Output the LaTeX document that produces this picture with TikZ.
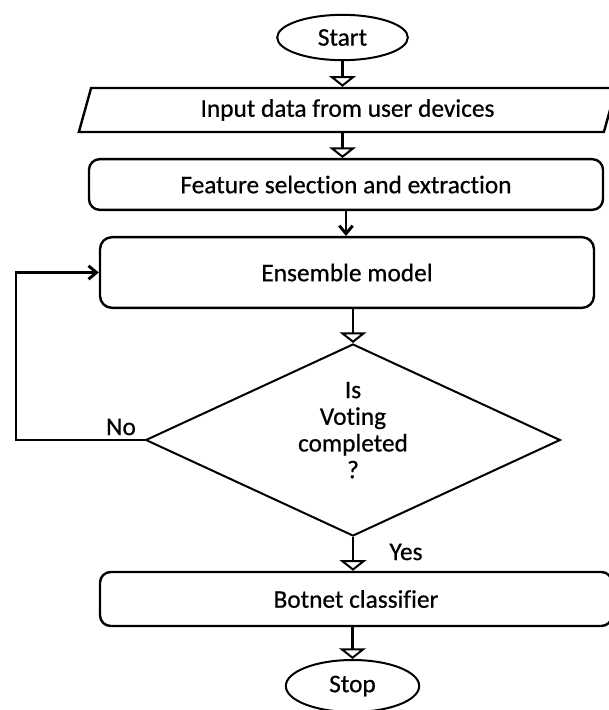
\documentclass[tikz,border=0pt]{standalone}
\usepackage{fontspec}
\setmainfont{Carlito}[Ligatures=NoCommon, BoldFont=Carlito, BoldFeatures={FakeBold=0.6}]
\usetikzlibrary{shapes.geometric,arrows.meta}

\tikzset{every picture/.style={line width=1.8pt}}
\tikzset{
	terminal/.style={ellipse, draw, line width=1.5pt, inner sep=0pt},
	process/.style={rectangle, draw, rounded corners=8pt, inner sep=0pt},
	iobox/.style={trapezium, draw, trapezium left angle=72, trapezium right angle=108, trapezium stretches=true, inner sep=0pt},
	decision/.style={diamond, draw, line width=1.5pt, aspect=2.16, inner sep=0pt, align=center},
	flow/.style={line width=2.2pt, -{Triangle[width=20pt,length=8pt,fill=white,line width=1.5pt]}},
	barb/.style={line width=2.2pt, -{Straight Barb[width=10pt,length=6pt]}}}

\begin{document}
\begin{tikzpicture}[x=0.75pt,y=0.75pt,yscale=-1,xscale=1,font=\fontsize{19}{20}\bfseries]
	\useasboundingbox (0,0) rectangle (609,710);

	%Shape: Ellipse [id:start]
	\node [terminal, minimum width=98pt, minimum height=34pt] (start) at (342.5,37.5) {Start};
	%Shape: Parallelogram [id:input]
	\node [iobox, minimum width=404pt, minimum height=33pt] (input) at (347.5,110) {Input data from user devices};
	%Shape: Rounded Rect [id:feature]
	\node [process, minimum width=385.5pt, minimum height=38pt] (feature) at (346,184.5) {Feature selection and extraction};
	%Shape: Rounded Rect [id:ensemble]
	\node [process, rounded corners=9pt, minimum width=370.5pt, minimum height=53pt] (ensemble) at (347,272.5) {Ensemble model};
	%Shape: Diamond [id:vote]
	\node [decision, text depth=15pt, minimum width=311pt, minimum height=144pt] (vote) at (353,440) {Is\\Voting\\completed\\?};
	%Shape: Rounded Rect [id:botnet]
	\node [process, minimum width=384pt, minimum height=40.5pt] (botnet) at (356,599) {Botnet classifier};
	%Shape: Ellipse [id:stop]
	\node [terminal, minimum width=100pt, minimum height=39pt] (stop) at (352.5,686) {Stop};

	% Text Node
	\node (no) at (121,427) {No};
	% Text Node
	\node (yes) at (406,552) {Yes};
	\coordinate (loop) at (16,440);

	%Straight Lines
	\draw [flow] (start.south) -- (start.south |- input.north);
	\draw [flow] (start.south |- input.south) -- (start.south |- feature.north);
	\draw [barb] (feature.south) -- (feature.south |- ensemble.north);
	\draw [flow] (vote.north |- ensemble.south) -- (vote.north);
	\draw [flow] (vote.south) -- (vote.south |- botnet.north);
	\draw [flow] (stop.north |- botnet.south) -- (stop.north);
	\draw [barb] (vote.west) -- (loop) |- (ensemble.west);

\end{tikzpicture}
\end{document}
